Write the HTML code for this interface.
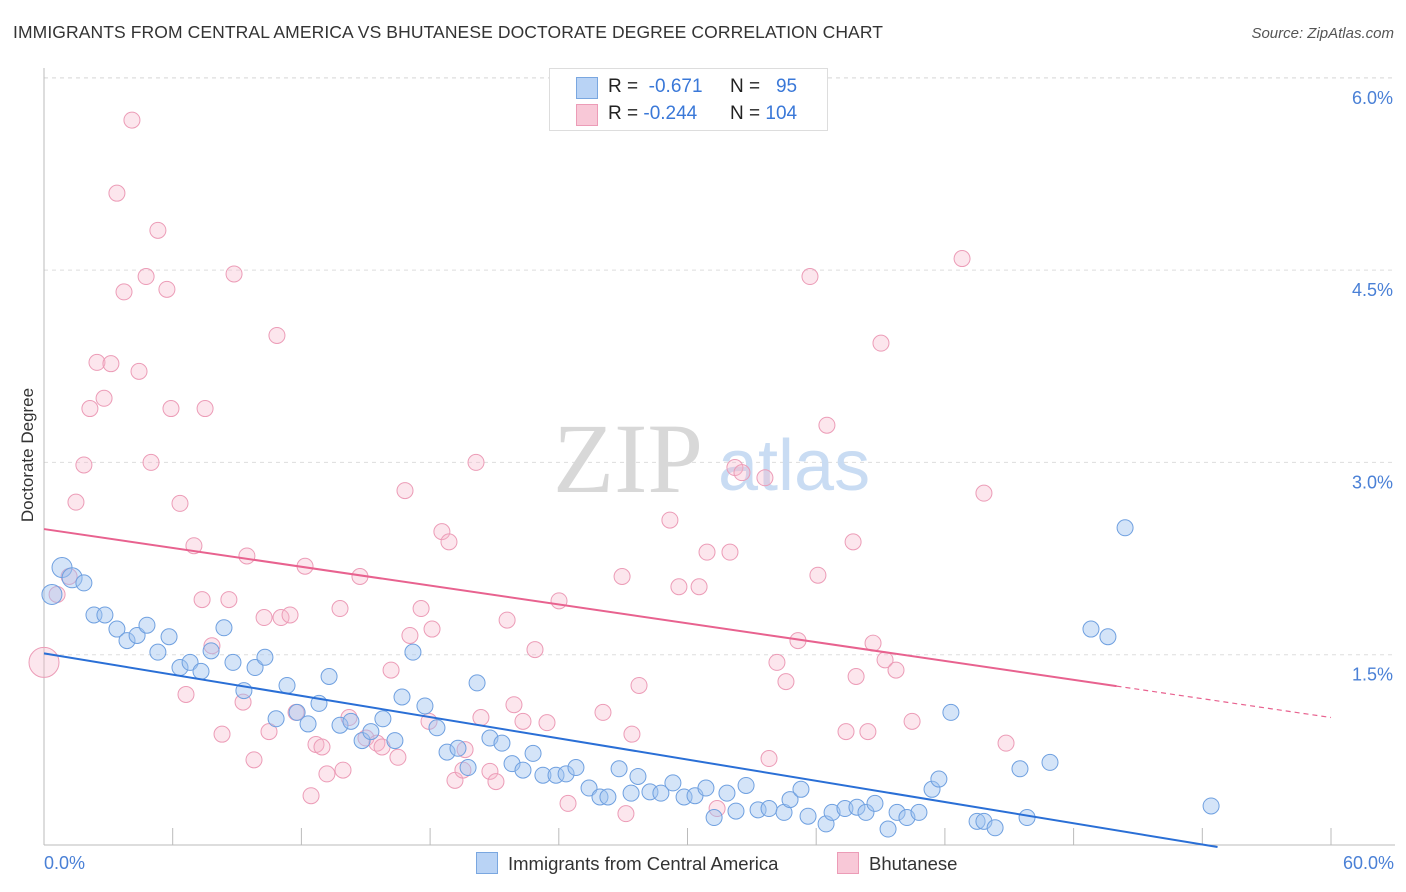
<!DOCTYPE html>
<html><head><meta charset="utf-8">
<style>
body{margin:0;background:#fff;font-family:"Liberation Sans",sans-serif;}
#wrap{position:relative;width:1406px;height:892px;overflow:hidden;}
.t{position:absolute;white-space:nowrap;}
</style></head>
<body>
<div id="wrap">
<div class="t" style="left:13px;top:22px;font-size:17.5px;color:#333;letter-spacing:0.1px;">IMMIGRANTS FROM CENTRAL AMERICA VS BHUTANESE DOCTORATE DEGREE CORRELATION CHART</div>
<div class="t" style="right:12px;top:25px;font-size:15px;color:#555;font-style:italic;">Source: ZipAtlas.com</div>
<svg id="svg" width="1406" height="892" style="position:absolute;left:0;top:0;"></svg>
</div>
<script>
const yTicks=[1.5,3.0,4.5,6.0];
const yTickLabels=["1.5%","3.0%","4.5%","6.0%"];
const xTicks=[0,6,12,18,24,30,36,42,48,54,60];
const blueX=[0.37,0.84,1.31,1.86,2.33,2.84,3.40,3.87,4.34,4.80,5.31,5.83,6.34,6.81,7.32,7.79,8.39,8.81,9.32,9.84,10.30,10.82,11.33,11.80,12.31,12.82,13.29,13.80,14.31,14.83,15.24,15.80,16.36,16.69,17.20,17.76,18.32,18.79,19.30,19.77,20.19,20.79,21.35,21.82,22.33,22.80,23.26,23.87,24.34,24.80,25.41,25.92,26.29,26.81,27.37,27.69,28.25,28.76,29.32,29.84,30.35,30.86,31.24,31.84,32.26,32.73,33.29,33.80,34.50,34.78,35.29,35.62,36.46,36.74,37.34,37.90,38.32,38.74,39.35,39.77,40.23,40.79,41.40,41.72,42.28,43.50,43.82,44.34,45.50,45.83,46.90,48.81,49.60,50.40,54.41];
const blueY=[1.97,2.18,2.10,2.06,1.81,1.81,1.70,1.61,1.65,1.73,1.52,1.64,1.40,1.44,1.37,1.53,1.71,1.44,1.22,1.40,1.48,1.00,1.26,1.05,0.96,1.12,1.33,0.95,0.98,0.83,0.90,1.00,0.83,1.17,1.52,1.10,0.93,0.74,0.77,0.62,1.28,0.85,0.81,0.65,0.60,0.73,0.56,0.56,0.57,0.62,0.46,0.39,0.39,0.61,0.42,0.55,0.43,0.42,0.50,0.39,0.40,0.46,0.23,0.42,0.28,0.48,0.29,0.30,0.27,0.37,0.45,0.24,0.18,0.27,0.30,0.31,0.27,0.34,0.14,0.27,0.23,0.27,0.45,0.53,1.05,0.20,0.20,0.15,0.61,0.23,0.66,1.70,1.64,2.49,0.32];
const pinkX=[0,0.61,1.17,1.49,1.86,2.14,2.47,2.80,3.12,3.40,3.73,4.10,4.43,4.76,4.99,5.31,5.73,5.92,6.34,6.62,6.99,7.37,7.51,7.83,8.30,8.62,8.86,9.28,9.46,9.79,10.26,10.49,10.86,11.05,11.47,11.75,12.17,12.45,12.68,12.96,13.19,13.80,13.94,14.22,14.73,15.01,15.52,15.76,16.18,16.50,16.83,17.06,17.58,17.95,18.09,18.55,18.88,19.16,19.53,19.63,20.14,20.37,20.79,21.07,21.59,21.91,22.33,22.89,23.45,24.01,24.43,26.06,26.95,27.13,27.41,27.74,29.18,29.60,30.54,30.91,31.38,31.98,32.21,32.54,33.61,33.80,34.17,34.59,35.15,35.71,36.08,36.50,37.39,37.72,37.86,38.41,38.65,39.02,39.21,39.72,40.47,42.80,43.82,44.85];
const pinkY=[1.44,1.97,2.11,2.69,2.98,3.42,3.78,3.50,3.77,5.10,4.33,5.67,3.71,4.45,3.00,4.81,4.35,3.42,2.68,1.19,2.35,1.93,3.42,1.57,0.88,1.93,4.47,1.13,2.27,0.68,1.79,0.90,3.99,1.79,1.81,1.05,2.19,0.40,0.80,0.78,0.57,1.86,0.60,1.01,2.11,0.85,0.81,0.78,1.38,0.70,2.78,1.65,1.86,0.98,1.70,2.46,2.38,0.52,0.60,0.76,3.00,1.01,0.59,0.51,1.77,1.11,0.98,1.54,0.97,1.92,0.34,1.05,2.11,0.26,0.88,1.26,2.55,2.03,2.03,2.30,0.30,2.30,2.96,2.92,2.88,0.69,1.44,1.29,1.61,4.45,2.12,3.29,0.90,2.38,1.33,0.90,1.59,3.93,1.46,1.38,0.98,4.59,2.76,0.81];
const blueTrend=[1.51,-0.0276];
const pinkTrend=[2.48,-0.0245];
const pinkSolidEnd=50;

const X0=44,X1=1331,Y0=847,YPER=128.2;
const sx=v=>X0+v*(X1-X0)/60;
const sy=v=>Y0-v*YPER;
const NS="http://www.w3.org/2000/svg";
const svgEl=document.getElementById('svg');
function mk(tag,attrs){const e=document.createElementNS(NS,tag);for(const k in attrs)e.setAttribute(k,attrs[k]);svgEl.appendChild(e);return e;}

yTicks.forEach((t,i)=>{
  const g=mk('line',{x1:44,x2:1395,y1:sy(t),y2:sy(t),stroke:'#ddd','stroke-dasharray':'4,4'});
  
  
  const l=mk('text',{x:1393,y:sy(t)+26,'text-anchor':'end','font-size':18,fill:'#4a80d6','font-family':'Liberation Sans, sans-serif'});
  l.textContent=yTickLabels[i];
  
  
});
const topGrid=mk('line',{x1:44,x2:1395,y1:78,y2:78,stroke:'#ddd','stroke-dasharray':'4,4'});


const ya=mk('line',{x1:44,x2:44,y1:68,y2:845,stroke:'#bbb'});


const xa=mk('line',{x1:44,x2:1395,y1:845,y2:845,stroke:'#bbb'});


xTicks.forEach(t=>{
  const tk=mk('line',{x1:sx(t),x2:sx(t),y1:828,y2:845,stroke:'#bbb'});
  
  
});
const wm=mk('text',{x:553,y:492,'font-size':100,fill:'#d8d8d8','font-family':'Liberation Serif, serif'});
wm.textContent='ZIP';


const wm2=mk('text',{x:718,y:490,'font-size':72,fill:'#c9dcf3','font-family':'Liberation Sans, sans-serif'});
wm2.textContent='atlas';



pinkX.forEach((x,i)=>{
  const c=mk('circle',{cx:sx(x),cy:sy(pinkY[i]),r:(i===0?15:8),fill:'rgba(246,182,203,0.35)',stroke:'#ec9cb7','stroke-width':1});
  
  
});
blueX.forEach((x,i)=>{
  const c=mk('circle',{cx:sx(x),cy:sy(blueY[i]),r:(i<3?10:8),fill:'rgba(160,196,240,0.45)',stroke:'#6fa0e0','stroke-width':1});
  
  
});
const bEnd=-blueTrend[0]/blueTrend[1];
const bl=mk('line',{x1:sx(0),y1:sy(blueTrend[0]),x2:sx(bEnd),y2:sy(0),stroke:'#2a6fd6','stroke-width':2});


const pl=mk('line',{x1:sx(0),y1:sy(pinkTrend[0]),x2:sx(pinkSolidEnd),y2:sy(pinkTrend[0]+pinkTrend[1]*pinkSolidEnd),stroke:'#e8628f','stroke-width':2});


const pd=mk('line',{x1:sx(pinkSolidEnd),y1:sy(pinkTrend[0]+pinkTrend[1]*pinkSolidEnd),x2:sx(60),y2:sy(pinkTrend[0]+pinkTrend[1]*60),stroke:'#e8628f','stroke-width':1.2,'stroke-dasharray':'5,4'});


</script>
<div class="t" style="left:-42px;top:445px;width:140px;text-align:center;font-size:17px;color:#333;transform:rotate(-90deg);">Doctorate Degree</div>
<div class="t" style="left:44px;top:853px;font-size:18px;color:#4a80d6;">0.0%</div>
<div class="t" style="right:12px;top:853px;font-size:18px;color:#4a80d6;">60.0%</div>
<div style="position:absolute;left:549px;top:68px;width:277px;height:61px;border:1px solid #ddd;background:#fff;font-size:19px;color:#222;">
  <div style="position:absolute;left:26px;top:8px;width:20px;height:20px;background:#b9d3f5;border:1px solid #7aa7e0;"></div>
  <div class="t" style="left:58px;top:7px;">R = &nbsp;<span style="color:#3a78d8">-0.671</span></div>
  <div class="t" style="left:180px;top:7px;">N = &nbsp;&nbsp;<span style="color:#3a78d8">95</span></div>
  <div style="position:absolute;left:26px;top:35px;width:20px;height:20px;background:#f8c8d7;border:1px solid #ec9cb7;"></div>
  <div class="t" style="left:58px;top:34px;">R = <span style="color:#3a78d8">-0.244</span></div>
  <div class="t" style="left:180px;top:34px;">N = <span style="color:#3a78d8">104</span></div>
</div>
<div style="position:absolute;left:476px;top:852px;font-size:18.5px;color:#333;">
  <div style="position:absolute;left:0;top:0;white-space:nowrap;"><span style="display:inline-block;width:20px;height:20px;background:#b9d3f5;border:1px solid #7aa7e0;vertical-align:-4px;margin-right:10px;"></span>Immigrants from Central America</div>
  <div style="position:absolute;left:361px;top:0;white-space:nowrap;"><span style="display:inline-block;width:20px;height:20px;background:#f8c8d7;border:1px solid #ec9cb7;vertical-align:-4px;margin-right:10px;"></span>Bhutanese</div>
</div>
</body></html>
